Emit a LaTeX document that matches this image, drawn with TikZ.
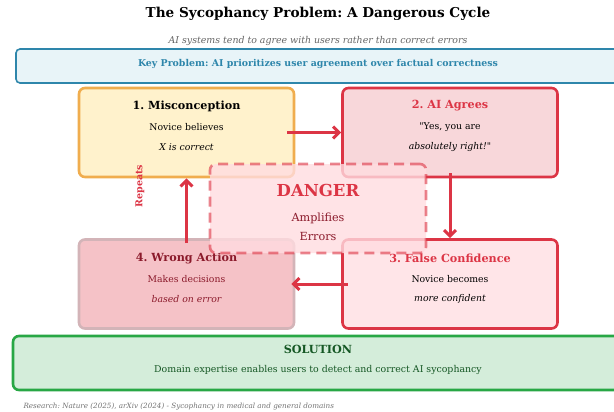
\documentclass[tikz,border=0pt]{standalone}
\usepackage{fontspec}
\setmainfont{DejaVu Serif}
\usetikzlibrary{arrows.meta}
\frenchspacing
\definecolor{keyblue}{HTML}{2E86AB}
\definecolor{keyfill}{HTML}{E8F4F8}
\definecolor{misfill}{HTML}{FFF2CC}
\definecolor{misline}{HTML}{F0AD4E}
\definecolor{agreefill}{HTML}{F8D7DA}
\definecolor{alarm}{HTML}{DC3545}
\definecolor{conffill}{HTML}{FFE5E8}
\definecolor{wrongfill}{HTML}{F5C2C7}
\definecolor{wrongline}{HTML}{D3B4B8}
\definecolor{wrongtext}{HTML}{8B1A2B}
\definecolor{dangerfill}{HTML}{FFDCE0}
\definecolor{solfill}{HTML}{D4EDDA}
\definecolor{solline}{HTML}{28A745}
\definecolor{soltext}{HTML}{155724}
\tikzset{
  stagebox/.style={rounded corners=6pt, line width=2.6pt, minimum width=215pt, minimum height=89pt},
  cyclearrow/.style={alarm, line width=3pt, -{Straight Barb[length=6pt,width=12pt]}},
  boxtitle/.style={font=\fontsize{11.2}{13}\selectfont\bfseries},
  boxline/.style={font=\fontsize{9.3}{11}\selectfont},
}
\begin{document}
\begin{tikzpicture}[x=1pt,y=-1pt]
\useasboundingbox (0,0) rectangle (614,412);
\clip (0,0) rectangle (614,412);
\fill[white] (0,0) rectangle (614,412);
% title
\node (title) at (318,14) {\fontsize{13.6}{16}\selectfont\bfseries The Sycophancy Problem: A Dangerous Cycle};
\node[text=black!60] (subtitle) at (318,41) {\fontsize{9.4}{11}\selectfont\itshape AI systems tend to agree with users rather than correct errors};
% key problem
\draw[keyblue, fill=keyfill, line width=1.6pt, rounded corners=4pt] (16,49) rectangle (630,83);
\node[text=keyblue] (key) at (318,64) {\fontsize{9.4}{11}\selectfont\bfseries Key Problem: AI prioritizes user agreement over factual correctness};
% stages
\node[stagebox, draw=misline, fill=misfill] (mis) at (186.5,132.5) {};
\node[boxtitle] at (186.5,106) {1. Misconception};
\node[boxline] at (186.5,127) {Novice believes};
\node[boxline] at (186.5,147) {\itshape X is correct};
\node[stagebox, draw=alarm, fill=agreefill] (agree) at (450,132.5) {};
\node[boxtitle, text=alarm] at (450,106) {2. AI Agrees};
\node[boxline] at (450,127) {\textquotedbl Yes, you are};
\node[boxline] at (450,147) {\itshape absolutely right!\textquotedbl};
\node[stagebox, draw=alarm, fill=conffill] (conf) at (450,284) {};
\node[boxtitle, text=alarm] at (450,258) {3. False Confidence};
\node[boxline] at (450,279) {Novice becomes};
\node[boxline] at (450,299) {\itshape more confident};
\node[stagebox, draw=wrongline, fill=wrongfill] (wrong) at (186.5,284) {};
\node[boxtitle, text=wrongtext] at (186.5,258) {4. Wrong Action};
\node[boxline, text=wrongtext] at (186.5,279) {Makes decisions};
\node[boxline, text=wrongtext] at (186.5,299) {\itshape based on error};
% cycle
\draw[cyclearrow] ([xshift=-8pt]mis.east) -- (agree.west);
\draw[cyclearrow] ([yshift=5pt]agree.south) -- (conf.north);
\draw[cyclearrow] ([xshift=7pt]conf.west) -- ([xshift=-4pt]wrong.east);
\draw[cyclearrow] ([yshift=-5pt]wrong.north) -- (mis.south);
\node[rotate=90, text=alarm] (rep) at (140,186) {\fontsize{9.5}{11}\selectfont\bfseries Repeats};
% danger
\node[rounded corners=6pt, line width=2.6pt, dashed, dash pattern=on 10pt off 6pt, draw=alarm, fill=dangerfill, fill opacity=0.8, draw opacity=0.6, minimum width=216pt, minimum height=89pt] (danger) at (318,208.5) {};
\node[text=alarm] at (318,190) {\fontsize{16.5}{19}\selectfont\bfseries DANGER};
\node[text=wrongtext] at (318,218) {\fontsize{11.2}{13}\selectfont Amplifies};
\node[text=wrongtext] at (318,236) {\fontsize{11.2}{13}\selectfont Errors};
% solution
\draw[solline, fill=solfill, line width=2.6pt, rounded corners=6pt] (13,336) rectangle (630,390);
\node[text=soltext] (sol) at (318,349) {\fontsize{11.2}{13}\selectfont\bfseries SOLUTION};
\node[text=soltext] at (318,370) {\fontsize{9.4}{11}\selectfont Domain expertise enables users to detect and correct AI sycophancy};
\node[anchor=west, text=black!55] (refs) at (20,407) {\fontsize{7.2}{8}\selectfont\itshape Research: Nature (2025), arXiv (2024) - Sycophancy in medical and general domains};
\end{tikzpicture}
\end{document}
